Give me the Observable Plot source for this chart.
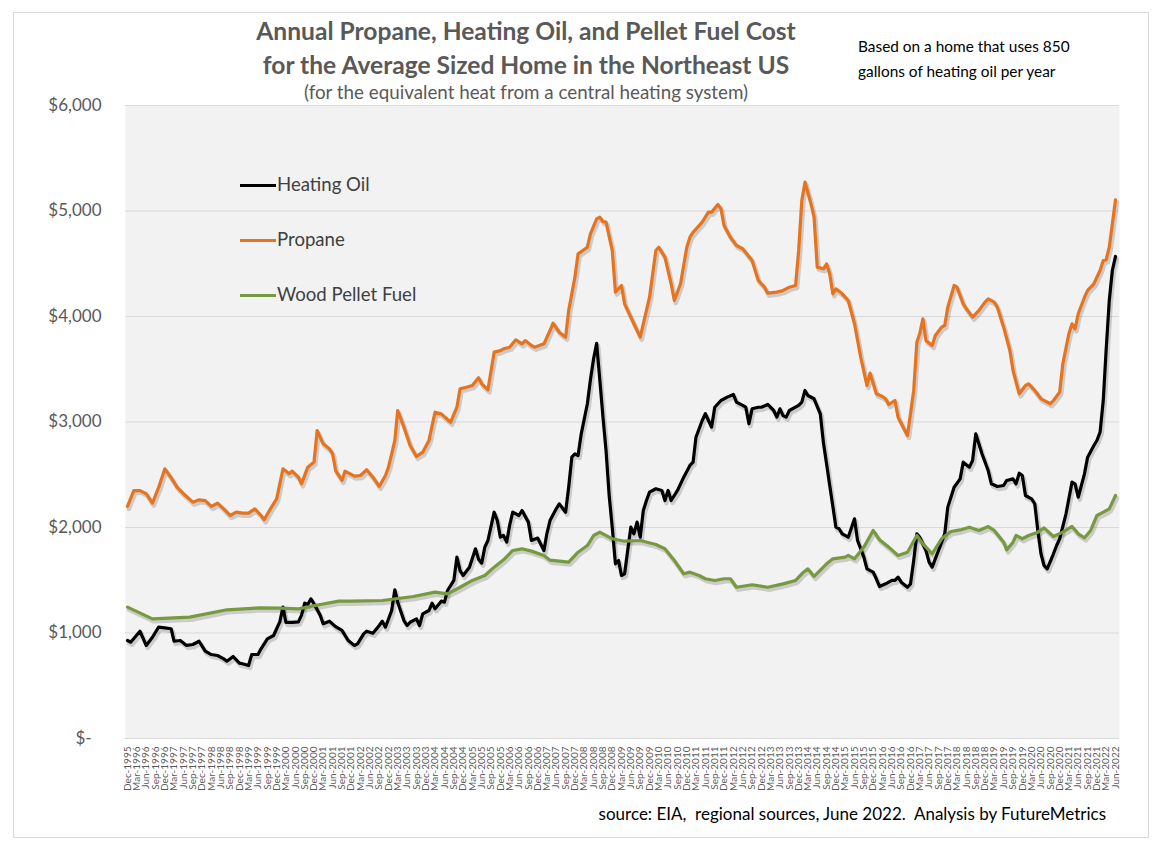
<!DOCTYPE html>
<html>
<head>
<meta charset="utf-8">
<script src="https://cdn.jsdelivr.net/npm/d3@7"></script>
<script src="https://cdn.jsdelivr.net/npm/@observablehq/plot@0.6"></script>
<style>
  body { margin: 0; background: #fff; }
  #wrap { position: relative; width: 1162px; height: 848px; font-family: Lato, "Open Sans", sans-serif; overflow: hidden; }
  #border { position: absolute; left: 13px; top: 12px; width: 1136px; height: 826px; border: 1px solid #d9d9d9; box-sizing: border-box; }
  #chart { position: absolute; left: 0; top: 0; }
  .t { position: absolute; white-space: pre; line-height: 1; }
  .title { left: 126px; width: 800px; text-align: center; color: #595959; font-weight: 700; font-size: 24.6px; }
  .sub { left: 126px; width: 800px; text-align: center; color: #595959; font-size: 18.8px; }
  .note { left: 858px; color: #000; font-size: 15.4px; }
  .leg { left: 240px; height: 0; }
  .leg span.sw { position: absolute; left: 0; top: -1.5px; width: 36px; height: 3.5px; }
  .leg span.lb { position: absolute; left: 37px; top: -10px; font-size: 18.6px; color: #404040; }
  .src { right: 56px; color: #000; font-size: 17px; }
</style>
</head>
<body>
<div id="wrap">
  <div id="border"></div>
  <div id="chart"></div>
  <div class="t title" style="top:19px">Annual Propane, Heating Oil, and Pellet Fuel Cost</div>
  <div class="t title" style="top:53px">for the Average Sized Home in the Northeast US</div>
  <div class="t sub" style="top:83px">(for the equivalent heat from a central heating system)</div>
  <div class="t note" style="top:39px">Based on a home that uses 850</div>
  <div class="t note" style="top:64px">gallons of heating oil per year</div>
  <div class="t leg" style="top:185px"><span class="sw" style="background:#000"></span><span class="lb">Heating Oil</span></div>
  <div class="t leg" style="top:240px"><span class="sw" style="background:#e8731c"></span><span class="lb">Propane</span></div>
  <div class="t leg" style="top:295px"><span class="sw" style="background:#779a3e"></span><span class="lb">Wood Pellet Fuel</span></div>
  <div class="t src" style="top:805px">source: EIA,  regional sources, June 2022.  Analysis by FutureMetrics</div>
</div>
<script>
// Months counted from Dec-1995 (0) to Jun-2022 (318); values = annual cost in US$
const heatingOil = [[0,929],[1,913],[4,1017],[6,882],[8,960],[10,1055],[12,1049],[14,1040],[15,922],[17,929],[19,882],[21,891],[23,922],[25,828],[27,796],[29,787],[31,755],[32,733],[34,777],[36,714],[37,708],[39,692],[40,796],[42,796],[43,850],[45,945],[47,976],[48,1040],[49,1106],[50,1245],[51,1100],[53,1100],[55,1106],[56,1170],[57,1283],[58,1270],[59,1324],[60,1277],[62,1166],[63,1087],[65,1112],[67,1060],[69,1024],[71,929],[73,882],[74,897],[76,992],[77,1017],[79,998],[81,1071],[82,1112],[83,1055],[85,1213],[86,1409],[87,1292],[89,1118],[90,1071],[91,1102],[93,1134],[94,1071],[95,1182],[97,1213],[98,1283],[99,1229],[101,1302],[102,1292],[103,1403],[105,1498],[106,1719],[107,1592],[108,1545],[110,1624],[112,1798],[113,1700],[114,1662],[115,1813],[116,1877],[118,2145],[119,2066],[120,1908],[121,1924],[122,1861],[123,2019],[124,2145],[126,2114],[127,2161],[129,2051],[130,1877],[132,1900],[134,1782],[135,1940],[136,2066],[138,2177],[139,2224],[141,2145],[142,2382],[143,2667],[144,2698],[145,2682],[146,2888],[148,3173],[149,3400],[150,3600],[151,3745],[152,3400],[153,3046],[154,2730],[155,2300],[156,2000],[157,1656],[158,1687],[159,1545],[160,1561],[161,1782],[162,2003],[163,1940],[164,2051],[165,1908],[166,2161],[167,2256],[168,2335],[170,2367],[172,2351],[173,2256],[174,2351],[175,2256],[177,2351],[179,2477],[181,2588],[182,2620],[183,2856],[185,3014],[186,3078],[188,2951],[189,3140],[191,3204],[193,3236],[195,3261],[196,3188],[198,3157],[199,3140],[200,2983],[201,3125],[203,3140],[204,3140],[206,3166],[208,3109],[209,3046],[210,3125],[211,3061],[212,3046],[213,3109],[216,3157],[217,3188],[218,3299],[219,3251],[221,3220],[223,3078],[224,2800],[225,2600],[226,2400],[227,2200],[228,2003],[229,1988],[230,1940],[232,1908],[234,2082],[235,1877],[237,1719],[238,1608],[240,1577],[241,1514],[242,1441],[244,1466],[246,1498],[247,1498],[248,1529],[249,1482],[251,1434],[252,1466],[253,1687],[254,1940],[255,1908],[257,1782],[258,1672],[259,1624],[261,1782],[263,1940],[264,2193],[266,2382],[268,2461],[269,2619],[271,2572],[272,2635],[273,2888],[275,2699],[277,2540],[278,2414],[280,2389],[282,2398],[283,2446],[285,2461],[286,2414],[287,2515],[288,2493],[289,2303],[291,2272],[292,2225],[293,1972],[294,1751],[295,1640],[296,1608],[298,1751],[299,1829],[300,1892],[302,2130],[304,2430],[305,2414],[306,2287],[308,2509],[309,2667],[311,2777],[312,2825],[313,2904],[314,3204],[315,3678],[316,4152],[317,4436],[318,4569]];

const propane = [[0,2200],[2,2350],[4,2350],[6,2320],[8,2230],[10,2380],[12,2556],[14,2470],[16,2380],[18,2320],[21,2240],[23,2262],[25,2255],[27,2200],[29,2230],[31,2177],[33,2114],[35,2145],[37,2136],[39,2136],[41,2177],[43,2114],[44,2073],[46,2177],[48,2272],[50,2556],[52,2509],[53,2535],[55,2477],[56,2414],[58,2572],[60,2620],[61,2919],[63,2793],[65,2746],[66,2700],[67,2540],[69,2446],[70,2534],[73,2487],[75,2493],[77,2547],[79,2477],[81,2389],[83,2493],[84,2572],[86,2825],[87,3109],[89,2951],[91,2777],[93,2673],[95,2714],[97,2825],[99,3093],[101,3077],[104,2998],[106,3140],[107,3315],[109,3330],[111,3346],[113,3419],[114,3362],[116,3305],[118,3662],[120,3677],[121,3693],[123,3709],[125,3779],[127,3740],[128,3772],[130,3725],[131,3709],[134,3741],[136,3867],[137,3937],[139,3851],[141,3804],[142,4057],[144,4373],[145,4594],[148,4657],[149,4784],[151,4926],[152,4941],[153,4900],[154,4894],[156,4626],[157,4231],[159,4294],[160,4120],[163,3931],[165,3804],[166,3931],[168,4183],[170,4626],[171,4657],[173,4562],[175,4310],[176,4152],[178,4310],[180,4657],[181,4752],[182,4799],[185,4894],[187,4989],[188,4989],[190,5062],[191,5021],[192,4863],[194,4752],[196,4673],[198,4642],[201,4531],[203,4341],[205,4278],[206,4221],[209,4231],[211,4247],[213,4278],[215,4294],[216,4626],[217,5100],[218,5273],[220,5068],[221,4941],[222,4468],[224,4452],[225,4499],[226,4405],[227,4215],[228,4262],[230,4215],[232,4152],[234,3931],[236,3614],[238,3346],[239,3463],[241,3267],[243,3242],[244,3220],[245,3166],[247,3204],[248,3046],[251,2872],[253,3299],[254,3757],[255,3836],[256,3978],[257,3773],[259,3725],[260,3820],[262,3899],[263,3915],[264,4088],[266,4294],[267,4278],[269,4120],[270,4073],[272,3994],[274,4057],[276,4136],[277,4167],[279,4136],[280,4088],[282,3899],[284,3678],[285,3488],[287,3267],[289,3346],[290,3362],[292,3299],[294,3220],[297,3173],[298,3204],[300,3283],[301,3552],[303,3836],[304,3931],[305,3883],[306,4026],[308,4183],[309,4247],[311,4310],[313,4436],[314,4531],[315,4537],[316,4657],[317,4878],[318,5106]];

const woodPellet = [[0,1245],[8,1134],[20,1150],[32,1220],[43,1239],[49,1236],[55,1229],[62,1270],[68,1302],[72,1302],[82,1308],[92,1346],[99,1387],[103,1371],[107,1434],[111,1498],[115,1545],[118,1624],[121,1694],[124,1782],[127,1798],[130,1776],[134,1735],[136,1690],[142,1672],[145,1766],[148,1829],[150,1924],[152,1956],[156,1893],[160,1870],[165,1877],[170,1839],[173,1798],[176,1687],[179,1561],[181,1577],[184,1545],[186,1514],[189,1498],[192,1514],[194,1514],[196,1434],[201,1457],[206,1434],[211,1466],[215,1498],[217,1561],[219,1608],[221,1536],[225,1656],[227,1703],[231,1719],[232,1735],[234,1703],[237,1814],[240,1972],[242,1883],[245,1814],[248,1735],[251,1766],[254,1924],[256,1845],[259,1751],[262,1893],[265,1962],[268,1977],[271,2003],[274,1972],[277,2009],[279,1972],[282,1861],[283,1788],[285,1861],[286,1924],[288,1893],[290,1924],[293,1956],[295,1997],[298,1915],[301,1956],[304,2010],[306,1940],[308,1902],[310,1972],[312,2114],[314,2145],[316,2177],[318,2303]];

const yTicks = [0, 1000, 2000, 3000, 4000, 5000, 6000];
const xTickMonths = d3.range(0, 319, 3); // Dec-1995, Mar-1996, ... Jun-2022

const toDate = m => new Date(Date.UTC(1995, 11 + m, 1));
const rows = (arr, series) => arr.map(([m, v]) => ({date: toDate(m), value: v, series}));

const oilData = rows(heatingOil, "Heating Oil");
const propaneData = rows(propane, "Propane");
const pelletData = rows(woodPellet, "Wood Pellet Fuel");

const colors = {"Heating Oil": "#000000", "Propane": "#e8731c", "Wood Pellet Fuel": "#779a3e"};
const fmtY = v => v === 0 ? "$-\u2007" : "$" + d3.format(",")(v);
const fmtX = d3.utcFormat("%b-%Y");

const shadow = data => Plot.line(data, {x: "date", y: "value", stroke: "#000", strokeOpacity: 0.16, strokeWidth: 4.5, dx: 1.5, dy: 2.5});
const main = (data, name) => Plot.line(data, {x: "date", y: "value", stroke: colors[name], strokeWidth: 3.2, strokeLinejoin: "round"});

const chart = Plot.plot({
  width: 1162,
  height: 848,
  marginLeft: 125,
  marginRight: 43,
  marginTop: 105,
  marginBottom: 110,
  style: {fontFamily: "Lato, 'Open Sans', sans-serif", background: "transparent"},
  x: {type: "utc", domain: [toDate(0), toDate(318)], range: [127, 1115]},
  y: {domain: [0, 6000]},
  marks: [
    Plot.frame({fill: "#f2f2f2", stroke: null}),
    Plot.ruleY(yTicks, {stroke: "#d9d9d9", strokeWidth: 1}),
    Plot.axisY({ticks: yTicks, tickSize: 0, tickPadding: 24, tickFormat: fmtY, fontSize: 17, fill: "#595959", label: null}),
    Plot.axisX({ticks: xTickMonths.map(toDate), tickFormat: fmtX, tickRotate: -90, tickSize: 0, tickPadding: 8, fontSize: 10, fill: "#595959", label: null}),
    shadow(oilData), main(oilData, "Heating Oil"),
    shadow(propaneData), main(propaneData, "Propane"),
    shadow(pelletData), main(pelletData, "Wood Pellet Fuel")
  ]
});
document.getElementById("chart").appendChild(chart);
</script>
</body>
</html>
